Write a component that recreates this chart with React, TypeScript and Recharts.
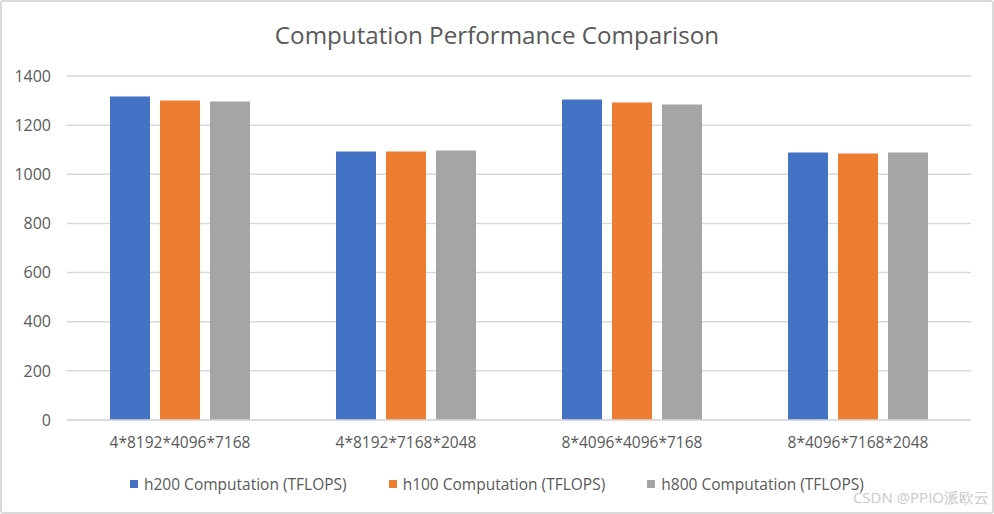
import React from "react";
import { Bar, BarChart, CartesianGrid, XAxis, YAxis } from "recharts";

const categories = [
  "4*8192*4096*7168",
  "4*8192*7168*2048",
  "8*4096*4096*7168",
  "8*4096*7168*2048",
];
const h200 = [1317, 1093, 1304, 1089];
const h100 = [1300, 1093, 1292, 1085];
const h800 = [1296, 1097, 1284, 1089];
const yTicks = [0, 200, 400, 600, 800, 1000, 1200, 1400];

const series = [
  { key: "h200", name: "h200 Computation (TFLOPS)", color: "#4472C4" },
  { key: "h100", name: "h100 Computation (TFLOPS)", color: "#ED7D31" },
  { key: "h800", name: "h800 Computation (TFLOPS)", color: "#A5A5A5" },
];

const data = categories.map((c, i) => ({
  name: c,
  h200: h200[i],
  h100: h100[i],
  h800: h800[i],
}));

const FONT = "'Open Sans', 'Noto Sans', sans-serif";
const TEXT = "#595959";

const App = () => {
  return (
    <div
      style={{
        position: "fixed",
        left: 0,
        top: 0,
        width: 994,
        height: 514,
        background: "#fff",
        fontFamily: FONT,
        boxSizing: "border-box",
        border: "2px solid #d9d9d9",
        borderRadius: 3,
        overflow: "hidden",
      }}
    >
      <div
        style={{
          position: "absolute",
          left: 0,
          width: 990,
          top: 16,
          textAlign: "center",
          fontSize: 24.2,
          color: TEXT,
        }}
      >
        Computation Performance Comparison
      </div>
      <div style={{ position: "absolute", left: -2, top: -2 }}>
        <BarChart
          width={994}
          height={514}
          data={data}
          margin={{ top: 76, right: 23, left: 0, bottom: 64 }}
          barSize={40}
          barGap={10}
        >
          <CartesianGrid vertical={false} stroke="#d9d9d9" strokeWidth={1.5} />
          <XAxis
            dataKey="name"
            axisLine={{ stroke: "#d9d9d9", strokeWidth: 1.5 }}
            tickLine={false}
            tickMargin={11}
            height={30}
            tick={{ fill: TEXT, fontSize: 15.5, fontFamily: FONT }}
          />
          <YAxis
            width={67}
            domain={[0, 1400]}
            ticks={yTicks}
            axisLine={false}
            tickLine={false}
            tickSize={0}
            tickMargin={16}
            tick={{ fill: TEXT, fontSize: 16, fontFamily: FONT }}
          />
          {series.map((s) => (
            <Bar
              key={s.key}
              dataKey={s.key}
              name={s.name}
              fill={s.color}
              isAnimationActive={false}
            />
          ))}
        </BarChart>
      </div>
      <div
        style={{
          position: "absolute",
          top: 471,
          left: 128,
          display: "flex",
          alignItems: "center",
          fontSize: 15.5,
          color: TEXT,
        }}
      >
        {series.map((s) => (
          <div
            key={s.key}
            style={{ display: "flex", alignItems: "center", marginRight: 42 }}
          >
            <span
              style={{
                display: "inline-block",
                width: 8,
                height: 8,
                background: s.color,
                marginRight: 6,
              }}
            />
            {s.name}
          </div>
        ))}
      </div>
      <div
        style={{
          position: "absolute",
          right: 3,
          top: 485,
          fontSize: 15,
          color: "#c8c8c8",
        }}
      >
        CSDN @PPIO派欧云
      </div>
    </div>
  );
};

export default App;
